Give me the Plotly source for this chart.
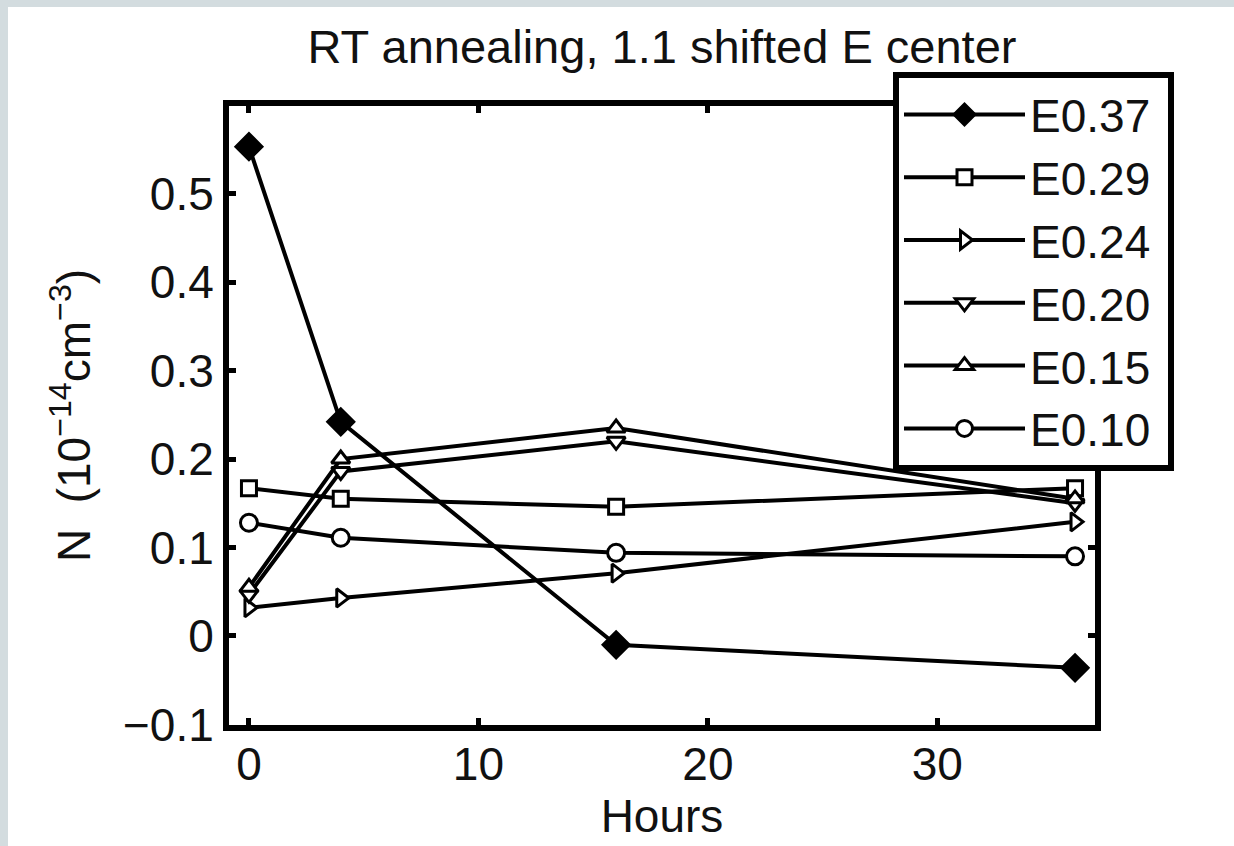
import plotly.graph_objects as go

# ---- data ----
hours = [0, 4, 16, 36]
series_names = ["E0.37", "E0.29", "E0.24", "E0.20", "E0.15", "E0.10"]
e037 = [0.553, 0.242, -0.010, -0.036]
e029 = [0.167, 0.155, 0.146, 0.167]
e024 = [0.032, 0.043, 0.071, 0.129]
e020 = [0.047, 0.186, 0.220, 0.150]
e015 = [0.055, 0.200, 0.235, 0.155]
e010 = [0.128, 0.111, 0.094, 0.090]
x_ticks = [0, 10, 20, 30]
y_ticks = [-0.1, 0, 0.1, 0.2, 0.3, 0.4, 0.5]
y_ticklabels = ["\u22120.1", "0", "0.1", "0.2", "0.3", "0.4", "0.5"]

# ---- styles ----
FONT = "Liberation Sans, Arial, sans-serif"
symbols = ["diamond", "square", "triangle-right", "triangle-down", "triangle-up", "circle"]
fills = ["black", "white", "white", "white", "white", "white"]
sizes = [20, 15, 16, 16, 16, 17]
values = [e037, e029, e024, e020, e015, e010]

W, H = 1234, 846
L, R, T, B = 229, 139, 106, 121
pw, ph = W - L - R, H - T - B

fig = go.Figure()
for name, vals, sym, fc, sz in zip(series_names, values, symbols, fills, sizes):
    fig.add_trace(go.Scatter(
        x=hours, y=vals, name=name + "\u00a0", mode="lines+markers",
        line=dict(color="black", width=4),
        marker=dict(symbol=sym, size=sz, color=fc, line=dict(color="black", width=3)),
    ))

def px_x(p):
    return (p - L) / pw

def px_y(p):
    return (H - B - p) / ph

fig.update_layout(
    width=W, height=H, autosize=False,
    margin=dict(l=L, r=R, t=T, b=B, pad=0),
    paper_bgcolor="#d3dcdf",
    plot_bgcolor="white",
    font=dict(family=FONT, size=46, color="#111111"),
    title=dict(text="RT annealing, 1.1 shifted E center", x=0.5, xref="paper", xanchor="center",
               y=1 - 47 / H, yref="container", yanchor="middle",
               font=dict(family=FONT, size=47, color="#111111")),
    showlegend=True,
    legend=dict(
        x=px_x(893), y=px_y(72), xref="paper", yref="paper", xanchor="left", yanchor="top",
        bgcolor="white", bordercolor="black", borderwidth=6,
        font=dict(family=FONT, size=46, color="#111111"),
        itemwidth=121, tracegroupgap=0, itemsizing="trace",
    ),
    shapes=[dict(type="rect", xref="paper", yref="paper", layer="below",
                 x0=px_x(8), x1=px_x(W + 5), y0=px_y(H + 5), y1=px_y(7),
                 fillcolor="white", line=dict(width=0))],
)

fig.update_xaxes(
    range=[-0.87, 36.87], tickmode="array", tickvals=x_ticks,
    ticktext=[str(v) for v in x_ticks],
    showgrid=False, zeroline=False,
    showline=True, linecolor="black", linewidth=6, mirror="ticks",
    ticks="inside", ticklen=7, tickwidth=5, tickcolor="black",
    ticklabelstandoff=-6,
    tickfont=dict(family=FONT, size=46, color="#111111"),
    title=dict(text="Hours", font=dict(family=FONT, size=46, color="#111111"), standoff=4),
)
fig.update_yaxes(
    range=[-0.1006, 0.599], tickmode="array", tickvals=y_ticks, ticktext=y_ticklabels,
    showgrid=False, zeroline=False,
    showline=True, linecolor="black", linewidth=6, mirror="ticks",
    ticks="inside", ticklen=7, tickwidth=5, tickcolor="black",
    tickfont=dict(family=FONT, size=46, color="#111111"),
    title=dict(text="N  (10<sup>\u221214</sup>cm<sup>\u22123</sup>)",
               font=dict(family=FONT, size=46, color="#111111"), standoff=20),
)

fig.write_html("out.html")
